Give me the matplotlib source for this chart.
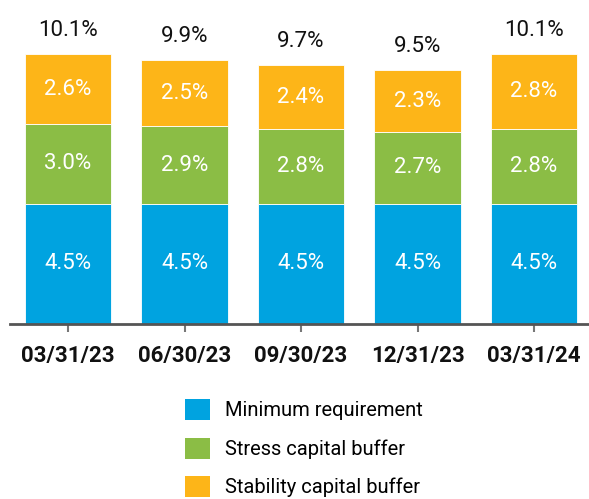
import matplotlib
matplotlib.use("Agg")
import matplotlib.pyplot as plt
from matplotlib.patches import Patch

plt.rcParams['font.family'] = ['Liberation Sans Narrow', 'Roboto', 'DejaVu Sans']

dates = ["03/31/23", "06/30/23", "09/30/23", "12/31/23", "03/31/24"]
minimum = [4.5, 4.5, 4.5, 4.5, 4.5]
stress = [3.0, 2.9, 2.8, 2.7, 2.8]
stability = [2.6, 2.5, 2.4, 2.3, 2.8]
totals = [10.1, 9.9, 9.7, 9.5, 10.1]

series = [
    ("Minimum requirement", minimum, "#00a3e0"),
    ("Stress capital buffer", stress, "#8bbd45"),
    ("Stability capital buffer", stability, "#fdb518"),
]

fig = plt.figure(figsize=(5.89, 4.99), dpi=100)
ax = fig.add_axes([10 / 589, 175 / 499, 579 / 589, 307 / 499])

x = list(range(len(dates)))
bottom = [0.0] * len(dates)
handles = []
for label, vals, color in series:
    bars = ax.bar(x, vals, width=0.74, bottom=bottom, color=color,
                  edgecolor="white", linewidth=0.6)
    for xi, b, v in zip(x, bottom, vals):
        ax.text(xi, b + v / 2, f"{v:.1f}%", ha="center", va="center",
                color="white", fontsize=16)
    bottom = [b + v for b, v in zip(bottom, vals)]
    handles.append(Patch(facecolor=color, label=label))

for xi, top, t in zip(x, bottom, totals):
    ax.annotate(f"{t:.1f}%", (xi, top), xytext=(0, 13), textcoords="offset points",
                ha="center", va="baseline", fontsize=16, color="#111111")

ax.set_xlim(-0.498, 4.472)
ax.set_ylim(0, 11.5)
ax.set_xticks(x)
ax.set_xticklabels(dates, fontsize=16, fontweight="bold", color="#111111")
ax.tick_params(axis="x", length=6, width=1.5, color="#777777", pad=9)
ax.set_yticks([])
for s in ["top", "right", "left"]:
    ax.spines[s].set_visible(False)
ax.spines["bottom"].set_color("#555555")
ax.spines["bottom"].set_linewidth(2)

fig.legend(handles=handles, loc="upper left",
           bbox_to_anchor=(185 / 589, 1 - 399 / 499), frameon=False,
           fontsize=14.5, handlelength=1.25, handleheight=1.25,
           handletextpad=0.75, labelspacing=0.85, borderpad=0, borderaxespad=0)

fig.savefig("out.png", dpi=100)
